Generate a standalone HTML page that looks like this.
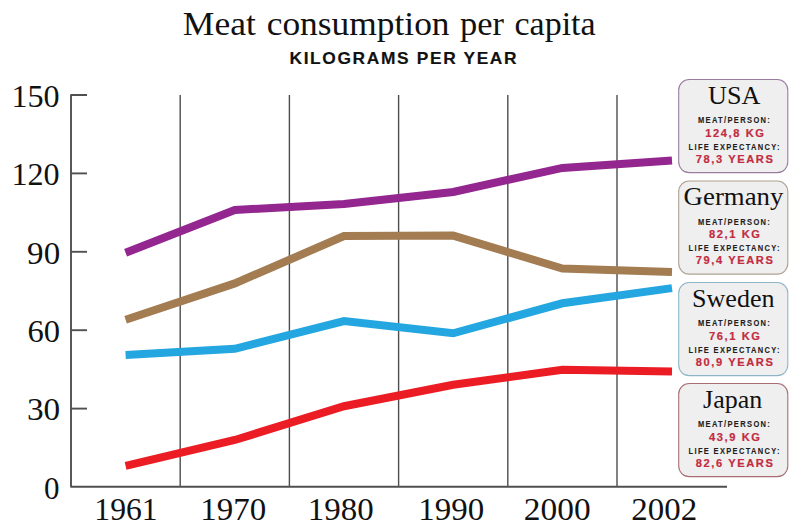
<!DOCTYPE html>
<html><head><meta charset="utf-8"><title>Meat consumption per capita</title><style>
html,body{margin:0;padding:0;background:#fff;width:800px;height:532px;overflow:hidden}
svg{display:block}
</style></head><body>
<svg width="800" height="532" viewBox="0 0 800 532">
<rect width="800" height="532" fill="#fff"/>
<line x1="180.2" y1="95" x2="180.2" y2="487" stroke="#4d4d4d" stroke-width="1.4"/><line x1="289.4" y1="95" x2="289.4" y2="487" stroke="#4d4d4d" stroke-width="1.4"/><line x1="398.6" y1="95" x2="398.6" y2="487" stroke="#4d4d4d" stroke-width="1.4"/><line x1="507.8" y1="95" x2="507.8" y2="487" stroke="#4d4d4d" stroke-width="1.4"/><line x1="617.0" y1="95" x2="617.0" y2="487" stroke="#4d4d4d" stroke-width="1.4"/><path d="M87 95 H71 V486.7 H727" fill="none" stroke="#505050" stroke-width="1.9" stroke-linejoin="round"/><line x1="71" y1="408.6" x2="87" y2="408.6" stroke="#505050" stroke-width="1.9"/><line x1="71" y1="330.2" x2="87" y2="330.2" stroke="#505050" stroke-width="1.9"/><line x1="71" y1="251.8" x2="87" y2="251.8" stroke="#505050" stroke-width="1.9"/><line x1="71" y1="173.4" x2="87" y2="173.4" stroke="#505050" stroke-width="1.9"/>
<polyline points="125.6,465.8 234.8,440.0 344.0,406.2 453.2,384.8 562.4,369.7 672.0,371.5" fill="none" stroke="#eb1c24" stroke-width="8" stroke-linejoin="miter" stroke-linecap="butt"/>
<polyline points="125.6,354.9 234.8,348.8 344.0,321.1 453.2,333.3 562.4,303.3 672.0,288.1" fill="none" stroke="#24a6e0" stroke-width="8" stroke-linejoin="miter" stroke-linecap="butt"/>
<polyline points="125.6,319.7 234.8,283.4 344.0,236.1 453.2,235.6 562.4,268.5 672.0,271.9" fill="none" stroke="#a37c52" stroke-width="8" stroke-linejoin="miter" stroke-linecap="butt"/>
<polyline points="125.6,252.8 234.8,210.0 344.0,204.0 453.2,192.0 562.4,167.9 672.0,160.6" fill="none" stroke="#93268f" stroke-width="8" stroke-linejoin="miter" stroke-linecap="butt"/>
<rect x="678.7" y="79.5" width="109.1" height="93.1" rx="10.5" fill="#f0eff0" stroke="#9a7ca0" stroke-width="1.1"/>
<rect x="678.7" y="181.0" width="109.1" height="93.1" rx="10.5" fill="#f0eff0" stroke="#ada294" stroke-width="1.1"/>
<rect x="678.7" y="282.5" width="109.1" height="93.1" rx="10.5" fill="#f0eff0" stroke="#8fb6c8" stroke-width="1.1"/>
<rect x="678.7" y="383.5" width="109.1" height="93.1" rx="10.5" fill="#f0eff0" stroke="#a86e74" stroke-width="1.1"/>
<text x="182.82" y="34.75" textLength="72.97" lengthAdjust="spacingAndGlyphs" style='font-family:"Liberation Serif",serif;font-size:33px;fill:#111;'>Meat</text>
<text x="266.73" y="34.75" textLength="182.81" lengthAdjust="spacingAndGlyphs" style='font-family:"Liberation Serif",serif;font-size:33px;fill:#111;'>consumption</text>
<text x="460.00" y="34.75" textLength="43.95" lengthAdjust="spacingAndGlyphs" style='font-family:"Liberation Serif",serif;font-size:33px;fill:#111;'>per</text>
<text x="514.47" y="34.75" textLength="81.15" lengthAdjust="spacingAndGlyphs" style='font-family:"Liberation Serif",serif;font-size:33px;fill:#111;'>capita</text>
<text x="289.51" y="63.60" textLength="228.71" lengthAdjust="spacingAndGlyphs" style='font-family:"Liberation Sans",sans-serif;font-weight:bold;font-size:15.9px;letter-spacing:1.5px;fill:#111;stroke:#111;stroke-width:0.15px;'>KILOGRAMS PER YEAR</text>
<text x="11.43" y="106.70" textLength="48.19" lengthAdjust="spacingAndGlyphs" style='font-family:"Liberation Serif",serif;font-size:31px;fill:#111;'>150</text>
<text x="11.43" y="185.10" textLength="48.19" lengthAdjust="spacingAndGlyphs" style='font-family:"Liberation Serif",serif;font-size:31px;fill:#111;'>120</text>
<text x="27.13" y="263.50" textLength="33.03" lengthAdjust="spacingAndGlyphs" style='font-family:"Liberation Serif",serif;font-size:31px;fill:#111;'>90</text>
<text x="27.55" y="341.90" textLength="32.60" lengthAdjust="spacingAndGlyphs" style='font-family:"Liberation Serif",serif;font-size:31px;fill:#111;'>60</text>
<text x="26.93" y="420.30" textLength="33.24" lengthAdjust="spacingAndGlyphs" style='font-family:"Liberation Serif",serif;font-size:31px;fill:#111;'>30</text>
<text x="44.05" y="498.70" style='font-family:"Liberation Serif",serif;font-size:31px;fill:#111;'>0</text>
<text x="94.36" y="519.60" textLength="63.28" lengthAdjust="spacingAndGlyphs" style='font-family:"Liberation Serif",serif;font-size:31px;fill:#111;'>1961</text>
<text x="200.27" y="519.60" textLength="65.89" lengthAdjust="spacingAndGlyphs" style='font-family:"Liberation Serif",serif;font-size:31px;fill:#111;'>1970</text>
<text x="307.77" y="519.60" textLength="65.89" lengthAdjust="spacingAndGlyphs" style='font-family:"Liberation Serif",serif;font-size:31px;fill:#111;'>1980</text>
<text x="418.27" y="519.60" textLength="65.89" lengthAdjust="spacingAndGlyphs" style='font-family:"Liberation Serif",serif;font-size:31px;fill:#111;'>1990</text>
<text x="523.82" y="519.60" textLength="66.86" lengthAdjust="spacingAndGlyphs" style='font-family:"Liberation Serif",serif;font-size:31px;fill:#111;'>2000</text>
<text x="631.34" y="519.60" textLength="65.82" lengthAdjust="spacingAndGlyphs" style='font-family:"Liberation Serif",serif;font-size:31px;fill:#111;'>2002</text>
<text x="708.00" y="103.80" textLength="52.32" lengthAdjust="spacingAndGlyphs" style='font-family:"Liberation Serif",serif;font-size:25px;fill:#111;'>USA</text>
<text x="697.90" y="123.40" textLength="73.33" lengthAdjust="spacingAndGlyphs" style='font-family:"Liberation Sans",sans-serif;font-weight:bold;font-size:8.4px;letter-spacing:1.5px;fill:#1e1e1e;stroke:#1e1e1e;stroke-width:0.12px;'>MEAT/PERSON:</text>
<text x="688.60" y="149.80" textLength="92.27" lengthAdjust="spacingAndGlyphs" style='font-family:"Liberation Sans",sans-serif;font-weight:bold;font-size:8.4px;letter-spacing:1.5px;fill:#1e1e1e;stroke:#1e1e1e;stroke-width:0.12px;'>LIFE EXPECTANCY:</text>
<text x="705.25" y="136.60" textLength="60.37" lengthAdjust="spacingAndGlyphs" style='font-family:"Liberation Sans",sans-serif;font-weight:bold;font-size:10.5px;letter-spacing:1.5px;fill:#c22c40;stroke:#c22c40;stroke-width:0.2px;'>124,8 KG</text>
<text x="695.71" y="162.90" textLength="78.80" lengthAdjust="spacingAndGlyphs" style='font-family:"Liberation Sans",sans-serif;font-weight:bold;font-size:10.5px;letter-spacing:1.5px;fill:#c22c40;stroke:#c22c40;stroke-width:0.2px;'>78,3 YEARS</text>
<text x="683.63" y="205.30" textLength="99.76" lengthAdjust="spacingAndGlyphs" style='font-family:"Liberation Serif",serif;font-size:25px;fill:#111;'>Germany</text>
<text x="697.90" y="224.90" textLength="73.33" lengthAdjust="spacingAndGlyphs" style='font-family:"Liberation Sans",sans-serif;font-weight:bold;font-size:8.4px;letter-spacing:1.5px;fill:#1e1e1e;stroke:#1e1e1e;stroke-width:0.12px;'>MEAT/PERSON:</text>
<text x="688.60" y="251.30" textLength="92.27" lengthAdjust="spacingAndGlyphs" style='font-family:"Liberation Sans",sans-serif;font-weight:bold;font-size:8.4px;letter-spacing:1.5px;fill:#1e1e1e;stroke:#1e1e1e;stroke-width:0.12px;'>LIFE EXPECTANCY:</text>
<text x="708.96" y="238.10" textLength="52.59" lengthAdjust="spacingAndGlyphs" style='font-family:"Liberation Sans",sans-serif;font-weight:bold;font-size:10.5px;letter-spacing:1.5px;fill:#c22c40;stroke:#c22c40;stroke-width:0.2px;'>82,1 KG</text>
<text x="695.71" y="264.40" textLength="78.80" lengthAdjust="spacingAndGlyphs" style='font-family:"Liberation Sans",sans-serif;font-weight:bold;font-size:10.5px;letter-spacing:1.5px;fill:#c22c40;stroke:#c22c40;stroke-width:0.2px;'>79,4 YEARS</text>
<text x="692.06" y="306.80" textLength="82.45" lengthAdjust="spacingAndGlyphs" style='font-family:"Liberation Serif",serif;font-size:25px;fill:#111;'>Sweden</text>
<text x="697.90" y="326.40" textLength="73.33" lengthAdjust="spacingAndGlyphs" style='font-family:"Liberation Sans",sans-serif;font-weight:bold;font-size:8.4px;letter-spacing:1.5px;fill:#1e1e1e;stroke:#1e1e1e;stroke-width:0.12px;'>MEAT/PERSON:</text>
<text x="688.60" y="352.80" textLength="92.27" lengthAdjust="spacingAndGlyphs" style='font-family:"Liberation Sans",sans-serif;font-weight:bold;font-size:8.4px;letter-spacing:1.5px;fill:#1e1e1e;stroke:#1e1e1e;stroke-width:0.12px;'>LIFE EXPECTANCY:</text>
<text x="708.96" y="339.60" textLength="52.59" lengthAdjust="spacingAndGlyphs" style='font-family:"Liberation Sans",sans-serif;font-weight:bold;font-size:10.5px;letter-spacing:1.5px;fill:#c22c40;stroke:#c22c40;stroke-width:0.2px;'>76,1 KG</text>
<text x="695.71" y="365.90" textLength="78.80" lengthAdjust="spacingAndGlyphs" style='font-family:"Liberation Sans",sans-serif;font-weight:bold;font-size:10.5px;letter-spacing:1.5px;fill:#c22c40;stroke:#c22c40;stroke-width:0.2px;'>80,9 YEARS</text>
<text x="703.10" y="407.80" textLength="59.17" lengthAdjust="spacingAndGlyphs" style='font-family:"Liberation Serif",serif;font-size:25px;fill:#111;'>Japan</text>
<text x="697.90" y="427.40" textLength="73.33" lengthAdjust="spacingAndGlyphs" style='font-family:"Liberation Sans",sans-serif;font-weight:bold;font-size:8.4px;letter-spacing:1.5px;fill:#1e1e1e;stroke:#1e1e1e;stroke-width:0.12px;'>MEAT/PERSON:</text>
<text x="688.60" y="453.80" textLength="92.27" lengthAdjust="spacingAndGlyphs" style='font-family:"Liberation Sans",sans-serif;font-weight:bold;font-size:8.4px;letter-spacing:1.5px;fill:#1e1e1e;stroke:#1e1e1e;stroke-width:0.12px;'>LIFE EXPECTANCY:</text>
<text x="708.96" y="440.60" textLength="52.59" lengthAdjust="spacingAndGlyphs" style='font-family:"Liberation Sans",sans-serif;font-weight:bold;font-size:10.5px;letter-spacing:1.5px;fill:#c22c40;stroke:#c22c40;stroke-width:0.2px;'>43,9 KG</text>
<text x="695.71" y="466.90" textLength="78.80" lengthAdjust="spacingAndGlyphs" style='font-family:"Liberation Sans",sans-serif;font-weight:bold;font-size:10.5px;letter-spacing:1.5px;fill:#c22c40;stroke:#c22c40;stroke-width:0.2px;'>82,6 YEARS</text>
</svg></body></html>
